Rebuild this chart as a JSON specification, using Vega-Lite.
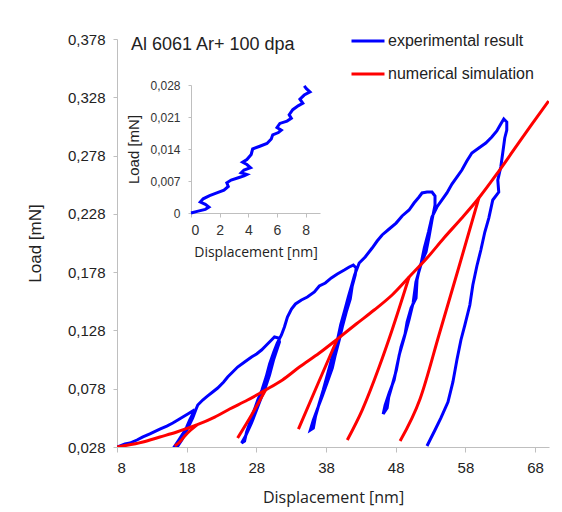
{
  "$schema": "https://vega.github.io/schema/vega-lite/v6.json",
  "width": 432,
  "height": 408,
  "autosize": {"type": "none"},
  "padding": {"left": 117, "top": 39, "right": 13, "bottom": 65},
  "background": "white",
  "title": {"text": "Al 6061 Ar+ 100 dpa", "anchor": "start", "frame": "group", "font": "Liberation Sans", "fontSize": 18, "fontWeight": "normal", "color": "#222222", "dx": 14, "dy": 45, "offset": 0, "baseline": "alphabetic"},
  "config": {
    "view": {"stroke": null},
    "axis": {"grid": false, "domainColor": "#bfbfbf", "tickColor": "#bfbfbf", "labelColor": "#222222", "titleColor": "#222222", "titleFontWeight": "normal", "labelFont": "Liberation Sans", "labelFontSize": 15, "tickSize": 5}
  },
  "datasets": {
    "main": [
      {"s":"experimental result","g":"b","i":1,"x":8.00,"y":0.0280},
      {"s":"experimental result","g":"b","i":2,"x":9.14,"y":0.0306},
      {"s":"experimental result","g":"b","i":3,"x":9.86,"y":0.0314},
      {"s":"experimental result","g":"b","i":4,"x":10.86,"y":0.0340},
      {"s":"experimental result","g":"b","i":5,"x":11.72,"y":0.0366},
      {"s":"experimental result","g":"b","i":6,"x":12.72,"y":0.0392},
      {"s":"experimental result","g":"b","i":7,"x":14.15,"y":0.0434},
      {"s":"experimental result","g":"b","i":8,"x":15.15,"y":0.0460},
      {"s":"experimental result","g":"b","i":9,"x":16.01,"y":0.0486},
      {"s":"experimental result","g":"b","i":10,"x":16.73,"y":0.0512},
      {"s":"experimental result","g":"b","i":11,"x":17.44,"y":0.0537},
      {"s":"experimental result","g":"b","i":12,"x":18.16,"y":0.0563},
      {"s":"experimental result","g":"b","i":13,"x":18.87,"y":0.0589},
      {"s":"experimental result","g":"b","i":14,"x":18.87,"y":0.0563},
      {"s":"experimental result","g":"b","i":15,"x":18.44,"y":0.0512},
      {"s":"experimental result","g":"b","i":16,"x":18.01,"y":0.0452},
      {"s":"experimental result","g":"b","i":17,"x":17.44,"y":0.0392},
      {"s":"experimental result","g":"b","i":18,"x":16.87,"y":0.0340},
      {"s":"experimental result","g":"b","i":19,"x":16.30,"y":0.0289},
      {"s":"experimental result","g":"b","i":20,"x":16.73,"y":0.0289},
      {"s":"experimental result","g":"b","i":21,"x":17.30,"y":0.0340},
      {"s":"experimental result","g":"b","i":22,"x":17.87,"y":0.0409},
      {"s":"experimental result","g":"b","i":23,"x":18.44,"y":0.0477},
      {"s":"experimental result","g":"b","i":24,"x":18.87,"y":0.0529},
      {"s":"experimental result","g":"b","i":25,"x":19.30,"y":0.0597},
      {"s":"experimental result","g":"b","i":26,"x":19.59,"y":0.0640},
      {"s":"experimental result","g":"b","i":27,"x":20.30,"y":0.0683},
      {"s":"experimental result","g":"b","i":28,"x":21.02,"y":0.0718},
      {"s":"experimental result","g":"b","i":29,"x":21.73,"y":0.0752},
      {"s":"experimental result","g":"b","i":30,"x":22.45,"y":0.0786},
      {"s":"experimental result","g":"b","i":31,"x":23.31,"y":0.0838},
      {"s":"experimental result","g":"b","i":32,"x":23.88,"y":0.0880},
      {"s":"experimental result","g":"b","i":33,"x":24.60,"y":0.0923},
      {"s":"experimental result","g":"b","i":34,"x":25.31,"y":0.0966},
      {"s":"experimental result","g":"b","i":35,"x":26.31,"y":0.1009},
      {"s":"experimental result","g":"b","i":36,"x":27.31,"y":0.1052},
      {"s":"experimental result","g":"b","i":37,"x":28.03,"y":0.1078},
      {"s":"experimental result","g":"b","i":38,"x":28.74,"y":0.1112},
      {"s":"experimental result","g":"b","i":39,"x":29.46,"y":0.1155},
      {"s":"experimental result","g":"b","i":40,"x":30.17,"y":0.1198},
      {"s":"experimental result","g":"b","i":41,"x":30.60,"y":0.1224},
      {"s":"experimental result","g":"b","i":42,"x":31.18,"y":0.1215},
      {"s":"experimental result","g":"b","i":43,"x":31.32,"y":0.1181},
      {"s":"experimental result","g":"b","i":44,"x":31.03,"y":0.1129},
      {"s":"experimental result","g":"b","i":45,"x":30.46,"y":0.1026},
      {"s":"experimental result","g":"b","i":46,"x":29.89,"y":0.0898},
      {"s":"experimental result","g":"b","i":47,"x":29.32,"y":0.0795},
      {"s":"experimental result","g":"b","i":48,"x":28.74,"y":0.0709},
      {"s":"experimental result","g":"b","i":49,"x":28.03,"y":0.0597},
      {"s":"experimental result","g":"b","i":50,"x":27.31,"y":0.0486},
      {"s":"experimental result","g":"b","i":51,"x":26.45,"y":0.0374},
      {"s":"experimental result","g":"b","i":52,"x":25.88,"y":0.0314},
      {"s":"experimental result","g":"b","i":53,"x":26.31,"y":0.0331},
      {"s":"experimental result","g":"b","i":54,"x":26.60,"y":0.0409},
      {"s":"experimental result","g":"b","i":55,"x":27.20,"y":0.0512},
      {"s":"experimental result","g":"b","i":56,"x":27.70,"y":0.0597},
      {"s":"experimental result","g":"b","i":57,"x":28.20,"y":0.0683},
      {"s":"experimental result","g":"b","i":58,"x":28.80,"y":0.0769},
      {"s":"experimental result","g":"b","i":59,"x":29.40,"y":0.0880},
      {"s":"experimental result","g":"b","i":60,"x":29.90,"y":0.0992},
      {"s":"experimental result","g":"b","i":61,"x":30.50,"y":0.1095},
      {"s":"experimental result","g":"b","i":62,"x":31.00,"y":0.1172},
      {"s":"experimental result","g":"b","i":63,"x":31.60,"y":0.1241},
      {"s":"experimental result","g":"b","i":64,"x":32.03,"y":0.1309},
      {"s":"experimental result","g":"b","i":65,"x":32.46,"y":0.1395},
      {"s":"experimental result","g":"b","i":66,"x":33.04,"y":0.1464},
      {"s":"experimental result","g":"b","i":67,"x":33.61,"y":0.1507},
      {"s":"experimental result","g":"b","i":68,"x":34.47,"y":0.1541},
      {"s":"experimental result","g":"b","i":69,"x":35.32,"y":0.1567},
      {"s":"experimental result","g":"b","i":70,"x":36.33,"y":0.1610},
      {"s":"experimental result","g":"b","i":71,"x":37.04,"y":0.1661},
      {"s":"experimental result","g":"b","i":72,"x":37.90,"y":0.1687},
      {"s":"experimental result","g":"b","i":73,"x":38.76,"y":0.1730},
      {"s":"experimental result","g":"b","i":74,"x":39.62,"y":0.1764},
      {"s":"experimental result","g":"b","i":75,"x":40.62,"y":0.1798},
      {"s":"experimental result","g":"b","i":76,"x":41.33,"y":0.1824},
      {"s":"experimental result","g":"b","i":77,"x":41.91,"y":0.1841},
      {"s":"experimental result","g":"b","i":78,"x":42.33,"y":0.1815},
      {"s":"experimental result","g":"b","i":79,"x":42.19,"y":0.1755},
      {"s":"experimental result","g":"b","i":80,"x":41.76,"y":0.1661},
      {"s":"experimental result","g":"b","i":81,"x":41.48,"y":0.1550},
      {"s":"experimental result","g":"b","i":82,"x":40.90,"y":0.1438},
      {"s":"experimental result","g":"b","i":83,"x":40.33,"y":0.1309},
      {"s":"experimental result","g":"b","i":84,"x":39.90,"y":0.1198},
      {"s":"experimental result","g":"b","i":85,"x":39.33,"y":0.1069},
      {"s":"experimental result","g":"b","i":86,"x":38.90,"y":0.0958},
      {"s":"experimental result","g":"b","i":87,"x":38.19,"y":0.0838},
      {"s":"experimental result","g":"b","i":88,"x":37.47,"y":0.0717},
      {"s":"experimental result","g":"b","i":89,"x":36.76,"y":0.0606},
      {"s":"experimental result","g":"b","i":90,"x":36.18,"y":0.0512},
      {"s":"experimental result","g":"b","i":91,"x":35.75,"y":0.0426},
      {"s":"experimental result","g":"b","i":92,"x":36.18,"y":0.0443},
      {"s":"experimental result","g":"b","i":93,"x":36.50,"y":0.0546},
      {"s":"experimental result","g":"b","i":94,"x":37.00,"y":0.0649},
      {"s":"experimental result","g":"b","i":95,"x":37.60,"y":0.0769},
      {"s":"experimental result","g":"b","i":96,"x":38.10,"y":0.0880},
      {"s":"experimental result","g":"b","i":97,"x":38.70,"y":0.1009},
      {"s":"experimental result","g":"b","i":98,"x":39.10,"y":0.1112},
      {"s":"experimental result","g":"b","i":99,"x":39.70,"y":0.1215},
      {"s":"experimental result","g":"b","i":100,"x":40.10,"y":0.1327},
      {"s":"experimental result","g":"b","i":101,"x":40.70,"y":0.1455},
      {"s":"experimental result","g":"b","i":102,"x":41.20,"y":0.1567},
      {"s":"experimental result","g":"b","i":103,"x":41.70,"y":0.1670},
      {"s":"experimental result","g":"b","i":104,"x":42.10,"y":0.1755},
      {"s":"experimental result","g":"b","i":105,"x":42.76,"y":0.1858},
      {"s":"experimental result","g":"b","i":106,"x":43.62,"y":0.1910},
      {"s":"experimental result","g":"b","i":107,"x":44.62,"y":0.1987},
      {"s":"experimental result","g":"b","i":108,"x":45.34,"y":0.2047},
      {"s":"experimental result","g":"b","i":109,"x":46.05,"y":0.2099},
      {"s":"experimental result","g":"b","i":110,"x":47.06,"y":0.2150},
      {"s":"experimental result","g":"b","i":111,"x":48.06,"y":0.2201},
      {"s":"experimental result","g":"b","i":112,"x":48.92,"y":0.2262},
      {"s":"experimental result","g":"b","i":113,"x":49.92,"y":0.2313},
      {"s":"experimental result","g":"b","i":114,"x":50.63,"y":0.2373},
      {"s":"experimental result","g":"b","i":115,"x":51.35,"y":0.2425},
      {"s":"experimental result","g":"b","i":116,"x":51.78,"y":0.2459},
      {"s":"experimental result","g":"b","i":117,"x":52.49,"y":0.2467},
      {"s":"experimental result","g":"b","i":118,"x":53.21,"y":0.2467},
      {"s":"experimental result","g":"b","i":119,"x":53.64,"y":0.2433},
      {"s":"experimental result","g":"b","i":120,"x":53.64,"y":0.2356},
      {"s":"experimental result","g":"b","i":121,"x":53.21,"y":0.2227},
      {"s":"experimental result","g":"b","i":122,"x":52.78,"y":0.2081},
      {"s":"experimental result","g":"b","i":123,"x":52.35,"y":0.1953},
      {"s":"experimental result","g":"b","i":124,"x":51.49,"y":0.1833},
      {"s":"experimental result","g":"b","i":125,"x":51.06,"y":0.1713},
      {"s":"experimental result","g":"b","i":126,"x":50.92,"y":0.1558},
      {"s":"experimental result","g":"b","i":127,"x":50.20,"y":0.1472},
      {"s":"experimental result","g":"b","i":128,"x":49.63,"y":0.1352},
      {"s":"experimental result","g":"b","i":129,"x":49.34,"y":0.1249},
      {"s":"experimental result","g":"b","i":130,"x":48.77,"y":0.1138},
      {"s":"experimental result","g":"b","i":131,"x":48.20,"y":0.0983},
      {"s":"experimental result","g":"b","i":132,"x":47.77,"y":0.0855},
      {"s":"experimental result","g":"b","i":133,"x":47.06,"y":0.0743},
      {"s":"experimental result","g":"b","i":134,"x":46.48,"y":0.0640},
      {"s":"experimental result","g":"b","i":135,"x":46.20,"y":0.0563},
      {"s":"experimental result","g":"b","i":136,"x":46.77,"y":0.0615},
      {"s":"experimental result","g":"b","i":137,"x":47.00,"y":0.0709},
      {"s":"experimental result","g":"b","i":138,"x":47.50,"y":0.0812},
      {"s":"experimental result","g":"b","i":139,"x":48.10,"y":0.0941},
      {"s":"experimental result","g":"b","i":140,"x":48.50,"y":0.1069},
      {"s":"experimental result","g":"b","i":141,"x":49.20,"y":0.1215},
      {"s":"experimental result","g":"b","i":142,"x":49.90,"y":0.1369},
      {"s":"experimental result","g":"b","i":143,"x":50.50,"y":0.1515},
      {"s":"experimental result","g":"b","i":144,"x":50.90,"y":0.1695},
      {"s":"experimental result","g":"b","i":145,"x":51.60,"y":0.1841},
      {"s":"experimental result","g":"b","i":146,"x":52.10,"y":0.1987},
      {"s":"experimental result","g":"b","i":147,"x":52.70,"y":0.2124},
      {"s":"experimental result","g":"b","i":148,"x":53.20,"y":0.2253},
      {"s":"experimental result","g":"b","i":149,"x":53.92,"y":0.2339},
      {"s":"experimental result","g":"b","i":150,"x":54.64,"y":0.2399},
      {"s":"experimental result","g":"b","i":151,"x":55.35,"y":0.2459},
      {"s":"experimental result","g":"b","i":152,"x":56.07,"y":0.2536},
      {"s":"experimental result","g":"b","i":153,"x":56.78,"y":0.2596},
      {"s":"experimental result","g":"b","i":154,"x":57.50,"y":0.2656},
      {"s":"experimental result","g":"b","i":155,"x":58.21,"y":0.2733},
      {"s":"experimental result","g":"b","i":156,"x":58.93,"y":0.2802},
      {"s":"experimental result","g":"b","i":157,"x":59.93,"y":0.2845},
      {"s":"experimental result","g":"b","i":158,"x":60.93,"y":0.2888},
      {"s":"experimental result","g":"b","i":159,"x":61.79,"y":0.2939},
      {"s":"experimental result","g":"b","i":160,"x":62.51,"y":0.2991},
      {"s":"experimental result","g":"b","i":161,"x":63.08,"y":0.3051},
      {"s":"experimental result","g":"b","i":162,"x":63.51,"y":0.3094},
      {"s":"experimental result","g":"b","i":163,"x":63.94,"y":0.3068},
      {"s":"experimental result","g":"b","i":164,"x":63.94,"y":0.2999},
      {"s":"experimental result","g":"b","i":165,"x":63.65,"y":0.2931},
      {"s":"experimental result","g":"b","i":166,"x":63.36,"y":0.2802},
      {"s":"experimental result","g":"b","i":167,"x":63.08,"y":0.2682},
      {"s":"experimental result","g":"b","i":168,"x":62.65,"y":0.2570},
      {"s":"experimental result","g":"b","i":169,"x":62.79,"y":0.2467},
      {"s":"experimental result","g":"b","i":170,"x":61.93,"y":0.2399},
      {"s":"experimental result","g":"b","i":171,"x":61.36,"y":0.2244},
      {"s":"experimental result","g":"b","i":172,"x":60.79,"y":0.2124},
      {"s":"experimental result","g":"b","i":173,"x":60.22,"y":0.1970},
      {"s":"experimental result","g":"b","i":174,"x":59.65,"y":0.1833},
      {"s":"experimental result","g":"b","i":175,"x":59.07,"y":0.1670},
      {"s":"experimental result","g":"b","i":176,"x":58.64,"y":0.1498},
      {"s":"experimental result","g":"b","i":177,"x":57.93,"y":0.1327},
      {"s":"experimental result","g":"b","i":178,"x":57.36,"y":0.1198},
      {"s":"experimental result","g":"b","i":179,"x":56.78,"y":0.1026},
      {"s":"experimental result","g":"b","i":180,"x":56.21,"y":0.0838},
      {"s":"experimental result","g":"b","i":181,"x":55.50,"y":0.0666},
      {"s":"experimental result","g":"b","i":182,"x":54.49,"y":0.0529},
      {"s":"experimental result","g":"b","i":183,"x":53.64,"y":0.0426},
      {"s":"experimental result","g":"b","i":184,"x":52.92,"y":0.0340},
      {"s":"experimental result","g":"b","i":185,"x":52.49,"y":0.0289}
    ],
    "sim": [
      {"s":"numerical simulation","g":"r0","i":1,"x":8.00,"y":0.0280},
      {"s":"numerical simulation","g":"r0","i":2,"x":11.72,"y":0.0323},
      {"s":"numerical simulation","g":"r0","i":3,"x":14.15,"y":0.0366},
      {"s":"numerical simulation","g":"r0","i":4,"x":16.58,"y":0.0409},
      {"s":"numerical simulation","g":"r0","i":5,"x":19.44,"y":0.0469},
      {"s":"numerical simulation","g":"r0","i":6,"x":22.02,"y":0.0537},
      {"s":"numerical simulation","g":"r0","i":7,"x":24.17,"y":0.0606},
      {"s":"numerical simulation","g":"r0","i":8,"x":26.74,"y":0.0683},
      {"s":"numerical simulation","g":"r0","i":9,"x":29.32,"y":0.0769},
      {"s":"numerical simulation","g":"r0","i":10,"x":31.75,"y":0.0855},
      {"s":"numerical simulation","g":"r0","i":11,"x":34.18,"y":0.0966},
      {"s":"numerical simulation","g":"r0","i":12,"x":37.04,"y":0.1086},
      {"s":"numerical simulation","g":"r0","i":13,"x":39.62,"y":0.1206},
      {"s":"numerical simulation","g":"r0","i":14,"x":42.33,"y":0.1335},
      {"s":"numerical simulation","g":"r0","i":15,"x":44.91,"y":0.1455},
      {"s":"numerical simulation","g":"r0","i":16,"x":47.48,"y":0.1584},
      {"s":"numerical simulation","g":"r0","i":17,"x":49.92,"y":0.1738},
      {"s":"numerical simulation","g":"r0","i":18,"x":52.49,"y":0.1901},
      {"s":"numerical simulation","g":"r0","i":19,"x":54.92,"y":0.2073},
      {"s":"numerical simulation","g":"r0","i":20,"x":57.36,"y":0.2236},
      {"s":"numerical simulation","g":"r0","i":21,"x":59.93,"y":0.2416},
      {"s":"numerical simulation","g":"r0","i":22,"x":62.51,"y":0.2622},
      {"s":"numerical simulation","g":"r0","i":23,"x":64.94,"y":0.2828},
      {"s":"numerical simulation","g":"r0","i":24,"x":67.37,"y":0.3034},
      {"s":"numerical simulation","g":"r0","i":25,"x":69.95,"y":0.3248},
      {"s":"numerical simulation","g":"r1","i":1,"x":16.30,"y":0.0289},
      {"s":"numerical simulation","g":"r1","i":2,"x":17.01,"y":0.0323},
      {"s":"numerical simulation","g":"r1","i":3,"x":17.73,"y":0.0375},
      {"s":"numerical simulation","g":"r1","i":4,"x":18.59,"y":0.0426},
      {"s":"numerical simulation","g":"r1","i":5,"x":19.44,"y":0.0469},
      {"s":"numerical simulation","g":"r2","i":1,"x":25.31,"y":0.0357},
      {"s":"numerical simulation","g":"r2","i":2,"x":27.31,"y":0.0555},
      {"s":"numerical simulation","g":"r2","i":3,"x":29.32,"y":0.0769},
      {"s":"numerical simulation","g":"r3","i":1,"x":34.04,"y":0.0434},
      {"s":"numerical simulation","g":"r3","i":2,"x":36.76,"y":0.0812},
      {"s":"numerical simulation","g":"r3","i":3,"x":39.62,"y":0.1206},
      {"s":"numerical simulation","g":"r4","i":1,"x":41.05,"y":0.0340},
      {"s":"numerical simulation","g":"r4","i":2,"x":43.19,"y":0.0597},
      {"s":"numerical simulation","g":"r4","i":3,"x":45.62,"y":0.0966},
      {"s":"numerical simulation","g":"r4","i":4,"x":47.48,"y":0.1284},
      {"s":"numerical simulation","g":"r4","i":5,"x":49.92,"y":0.1738},
      {"s":"numerical simulation","g":"r5","i":1,"x":48.63,"y":0.0331},
      {"s":"numerical simulation","g":"r5","i":2,"x":51.49,"y":0.0692},
      {"s":"numerical simulation","g":"r5","i":3,"x":54.21,"y":0.1241},
      {"s":"numerical simulation","g":"r5","i":4,"x":57.07,"y":0.1824},
      {"s":"numerical simulation","g":"r5","i":5,"x":59.93,"y":0.2416}
    ],
    "inset": [
      {"i":1,"x":0.0,"y":0.0},
      {"i":2,"x":0.5,"y":0.0004},
      {"i":3,"x":1.0,"y":0.0008},
      {"i":4,"x":1.25,"y":0.0013},
      {"i":5,"x":1.0,"y":0.0019},
      {"i":6,"x":0.65,"y":0.0024},
      {"i":7,"x":0.85,"y":0.0031},
      {"i":8,"x":1.3,"y":0.0038},
      {"i":9,"x":1.8,"y":0.0044},
      {"i":10,"x":2.3,"y":0.0050},
      {"i":11,"x":2.6,"y":0.0058},
      {"i":12,"x":2.5,"y":0.0066},
      {"i":13,"x":2.8,"y":0.0072},
      {"i":14,"x":3.3,"y":0.0077},
      {"i":15,"x":3.7,"y":0.0081},
      {"i":16,"x":3.9,"y":0.0084},
      {"i":17,"x":3.5,"y":0.0088},
      {"i":18,"x":3.7,"y":0.0094},
      {"i":19,"x":4.15,"y":0.0099},
      {"i":20,"x":3.9,"y":0.0106},
      {"i":21,"x":3.6,"y":0.0111},
      {"i":22,"x":3.9,"y":0.0117},
      {"i":23,"x":4.2,"y":0.0128},
      {"i":24,"x":4.3,"y":0.0140},
      {"i":25,"x":4.8,"y":0.0146},
      {"i":26,"x":5.3,"y":0.0152},
      {"i":27,"x":5.6,"y":0.0162},
      {"i":28,"x":5.7,"y":0.0171},
      {"i":29,"x":6.1,"y":0.0176},
      {"i":30,"x":6.3,"y":0.0181},
      {"i":31,"x":6.0,"y":0.0187},
      {"i":32,"x":6.2,"y":0.0196},
      {"i":33,"x":6.7,"y":0.0201},
      {"i":34,"x":7.0,"y":0.0207},
      {"i":35,"x":6.85,"y":0.0215},
      {"i":36,"x":7.1,"y":0.0226},
      {"i":37,"x":7.5,"y":0.0235},
      {"i":38,"x":7.8,"y":0.0240},
      {"i":39,"x":7.6,"y":0.0249},
      {"i":40,"x":7.9,"y":0.0258},
      {"i":41,"x":8.3,"y":0.0265},
      {"i":42,"x":8.05,"y":0.0272},
      {"i":43,"x":7.9,"y":0.0278}
    ]
  },
  "layer": [
    {
      "layer": [
        {
          "data": {"name": "main"},
          "mark": {"type": "line", "strokeWidth": 3, "clip": true},
          "encoding": {
            "x": {"field": "x", "type": "quantitative", "scale": {"domain": [8, 70], "nice": false, "zero": false},
              "axis": {"values": [8, 18, 28, 38, 48, 58, 68], "format": "d", "title": "Displacement [nm]", "titleFont": "Open Sans", "titleFontSize": 16, "titleY": 50, "titleBaseline": "middle", "labelPadding": 8, "tickSize": 5}},
            "y": {"field": "y", "type": "quantitative", "scale": {"domain": [0.028, 0.378], "nice": false, "zero": false},
              "axis": {"values": [0.028, 0.078, 0.128, 0.178, 0.228, 0.278, 0.328, 0.378], "labelExpr": "replace(format(datum.value, '.3f'), '.', ',')", "title": "Load [mN]", "titleFont": "Liberation Sans", "titleFontSize": 17, "titleX": -82, "titleY": 204, "titleBaseline": "middle", "titleAlign": "center", "labelPadding": 8, "tickSize": 4}},
            "color": {"field": "s", "type": "nominal",
              "scale": {"domain": ["experimental result", "numerical simulation"], "range": ["#0000ff", "#ff0000"]},
              "legend": {"orient": "none", "legendX": 233, "legendY": -16, "title": null, "padding": 0, "symbolType": "stroke", "symbolSize": 1089, "symbolStrokeWidth": 3, "labelFont": "Liberation Sans", "labelFontSize": 16, "labelColor": "#222222", "labelOffset": 2, "labelLimit": 300, "rowPadding": 7}},
            "detail": {"field": "g"},
            "order": {"field": "i", "type": "quantitative"}
          }
        },
        {
          "data": {"name": "sim"},
          "mark": {"type": "line", "strokeWidth": 3, "interpolate": "monotone", "clip": true},
          "encoding": {
            "x": {"field": "x", "type": "quantitative"},
            "y": {"field": "y", "type": "quantitative"},
            "color": {"field": "s", "type": "nominal"},
            "detail": {"field": "g"},
            "order": {"field": "i", "type": "quantitative"}
          }
        }
      ]
    },
    {
      "data": {"name": "inset"},
      "mark": {"type": "line", "strokeWidth": 3, "color": "#0000ff"},
      "encoding": {
        "x": {"field": "x", "type": "quantitative", "scale": {"domain": [0, 9], "range": [74, 203], "nice": false, "zero": false},
          "axis": {"orient": "bottom", "offset": -234, "values": [0, 2, 4, 6, 8], "format": "d", "title": "Displacement [nm]", "titleFont": "Open Sans", "titleFontSize": 14, "titleY": 39, "titleBaseline": "middle", "labelFontSize": 14, "labelPadding": 6, "tickSize": 4, "labelColor": "#333333"}},
        "y": {"field": "y", "type": "quantitative", "scale": {"domain": [0, 0.028], "range": [174, 46], "nice": false, "zero": false},
          "axis": {"orient": "left", "offset": -74, "values": [0, 0.007, 0.014, 0.021, 0.028], "labelExpr": "datum.value == 0 ? '0' : replace(format(datum.value, '.3f'), '.', ',')", "title": "Load [mN]", "titleFont": "Liberation Sans", "titleFontSize": 15, "titleX": -58, "titleBaseline": "middle", "titleAlign": "center", "labelFontSize": 12, "labelPadding": 8, "tickSize": 3, "labelColor": "#333333"}},
        "order": {"field": "i", "type": "quantitative"}
      }
    }
  ],
  "resolve": {"scale": {"x": "independent", "y": "independent"}, "axis": {"x": "independent", "y": "independent"}}
}
